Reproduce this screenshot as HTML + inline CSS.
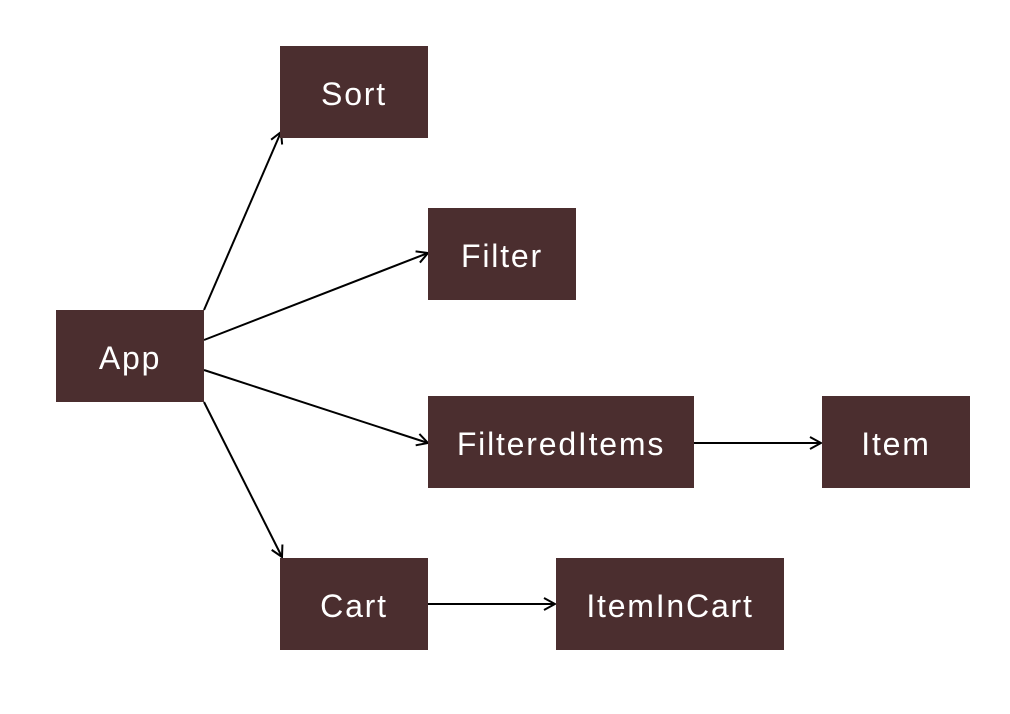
<!DOCTYPE html>
<html><head><meta charset="utf-8"><style>
html,body{margin:0;padding:0;background:#fff;}
body{width:1010px;height:714px;position:relative;overflow:hidden;font-family:"Liberation Sans",sans-serif;}
.b{position:absolute;background:#4b2e2f;color:#fff;font-size:32px;letter-spacing:1.8px;display:flex;align-items:center;justify-content:center;height:92px;box-sizing:border-box;padding-top:4px;}
svg{position:absolute;left:0;top:0;}
</style></head><body>
<svg width="1010" height="714">
<defs><marker id="a" markerWidth="14" markerHeight="14" refX="12" refY="7" orient="auto" markerUnits="userSpaceOnUse"><path d="M1,1 L12,7 L1,13" fill="none" stroke="#000" stroke-width="2"/></marker></defs>
<g stroke="#000" stroke-width="2" fill="none">
<line x1="204" y1="310" x2="281" y2="132" marker-end="url(#a)"/>
<line x1="204" y1="340" x2="428" y2="253" marker-end="url(#a)"/>
<line x1="204" y1="370" x2="428" y2="443" marker-end="url(#a)"/>
<line x1="204" y1="402" x2="282" y2="557" marker-end="url(#a)"/>
<line x1="694" y1="443" x2="821" y2="443" marker-end="url(#a)"/>
<line x1="428" y1="604" x2="555" y2="604" marker-end="url(#a)"/>
</g></svg>
<div class="b" style="left:280px;top:46px;width:148px;">Sort</div>
<div class="b" style="left:428px;top:208px;width:148px;">Filter</div>
<div class="b" style="left:56px;top:310px;width:148px;">App</div>
<div class="b" style="left:428px;top:396px;width:266px;">FilteredItems</div>
<div class="b" style="left:822px;top:396px;width:148px;">Item</div>
<div class="b" style="left:280px;top:558px;width:148px;">Cart</div>
<div class="b" style="left:556px;top:558px;width:228px;">ItemInCart</div>
</body></html>
